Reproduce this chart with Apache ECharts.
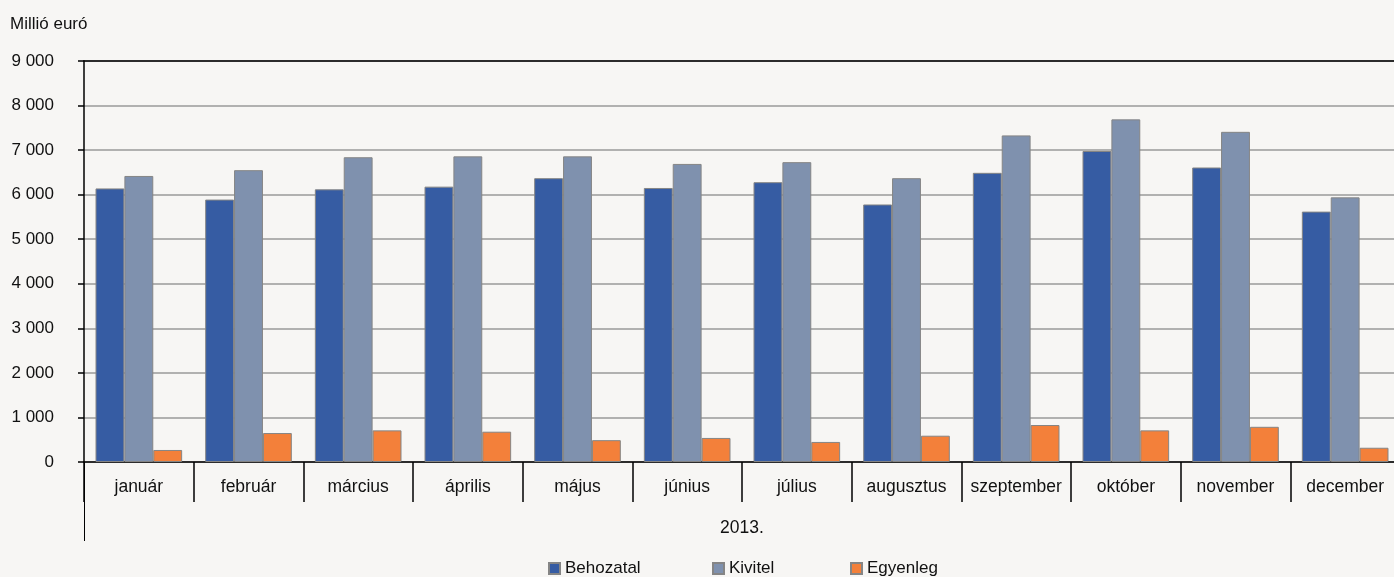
<!DOCTYPE html>
<html>
<head>
<meta charset="utf-8">
<script src="https://cdn.jsdelivr.net/npm/echarts@6/dist/echarts.min.js"></script>
<style>
html,body{margin:0;padding:0;background:#f7f6f4;}
#chart{width:1394px;height:577px;}
</style>
</head>
<body>
<div id="chart"></div>
<script>
const months = ['január','február','március','április','május','június','július','augusztus','szeptember','október','november','december'];
const yearLabel = ['2013.'];
const behozatal = [6140, 5890, 6120, 6180, 6370, 6150, 6280, 5780, 6490, 6980, 6610, 5620];
const kivitel   = [6420, 6550, 6840, 6860, 6860, 6690, 6730, 6370, 7330, 7690, 7410, 5940];
const egyenleg  = [270, 650, 710, 680, 490, 540, 450, 590, 830, 710, 790, 320];
const seriesNames = ['Behozatal','Kivitel','Egyenleg'];
const unitLabel = 'Millió euró';

const FONT = '"Liberation Sans Narrow", "Arial Narrow", "Liberation Sans", Arial, sans-serif';
const colors = ['#365ca3', '#7f91ae', '#f3803a'];
const legendLeft = [543, 707, 845];

const chart = echarts.init(document.getElementById('chart'), null, {renderer:'canvas'});
const fmt = v => String(v).replace(/\B(?=(\d{3})+(?!\d))/g, ' ');

const barStyle = c => ({color: c, borderColor: '#858585', borderWidth: 1});

chart.setOption({
  backgroundColor: '#f7f6f4',
  animation: false,
  textStyle: {fontFamily: FONT, color: '#111'},
  title: {
    text: unitLabel, left: 5, top: 11,
    textStyle: {fontFamily: FONT, fontSize: 17, fontWeight: 'normal', color: '#111'}
  },
  legend: seriesNames.map((n, i) => ({
    data: [n], left: legendLeft[i], top: 555,
    itemWidth: 11, itemHeight: 11, icon: 'rect',
    textStyle: {fontFamily: FONT, fontSize: 17, color: '#111'}
  })),
  grid: {left: 84, width: 1316, top: 61, bottom: 115, containLabel: false, outerBoundsMode: 'none'},
  xAxis: [
    {
      type: 'category', data: months, position: 'bottom', gridIndex: 0,
      boundaryGap: true,
      axisLine: {show: true, lineStyle: {color: '#000', width: 1.5}},
      axisTick: {show: true, interval: 0, length: 40, lineStyle: {color: '#000', width: 1.5}},
      axisLabel: {interval: 0, margin: 16, fontFamily: FONT, fontSize: 17.5, color: '#111'},
      splitLine: {show: false}
    },
    {
      type: 'category', data: yearLabel, position: 'bottom', gridIndex: 0,
      boundaryGap: true,
      axisLine: {show: false},
      axisTick: {show: true, interval: 0, length: 79, lineStyle: {color: '#000', width: 1}},
      axisLabel: {interval: 0, margin: 57, fontFamily: FONT, fontSize: 17.5, color: '#111'},
      splitLine: {show: false}
    },
    {
      type: 'category', data: months, position: 'top', gridIndex: 0,
      axisLine: {show: true, lineStyle: {color: '#000', width: 1.5}},
      axisTick: {show: false}, axisLabel: {show: false}, splitLine: {show: false}
    }
  ],
  yAxis: {
    type: 'value', min: 0, max: 9000, interval: 1000,
    axisLine: {show: true, lineStyle: {color: '#000', width: 1.5}},
    axisTick: {show: true, length: 6, lineStyle: {color: '#000', width: 1.5}},
    axisLabel: {margin: 30, fontFamily: FONT, fontSize: 17, color: '#111', formatter: fmt},
    splitLine: {show: true, lineStyle: {color: '#9a9a9a', width: 1.5}}
  },
  series: [
    {name: seriesNames[0], type: 'bar', xAxisIndex: 0, data: behozatal, barGap: '0%', barCategoryGap: '21%', itemStyle: barStyle(colors[0])},
    {name: seriesNames[1], type: 'bar', xAxisIndex: 0, data: kivitel, barGap: '0%', barCategoryGap: '21%', itemStyle: barStyle(colors[1])},
    {name: seriesNames[2], type: 'bar', xAxisIndex: 0, data: egyenleg, barGap: '0%', barCategoryGap: '21%', itemStyle: barStyle(colors[2])}
  ]
});
</script>
</body>
</html>
